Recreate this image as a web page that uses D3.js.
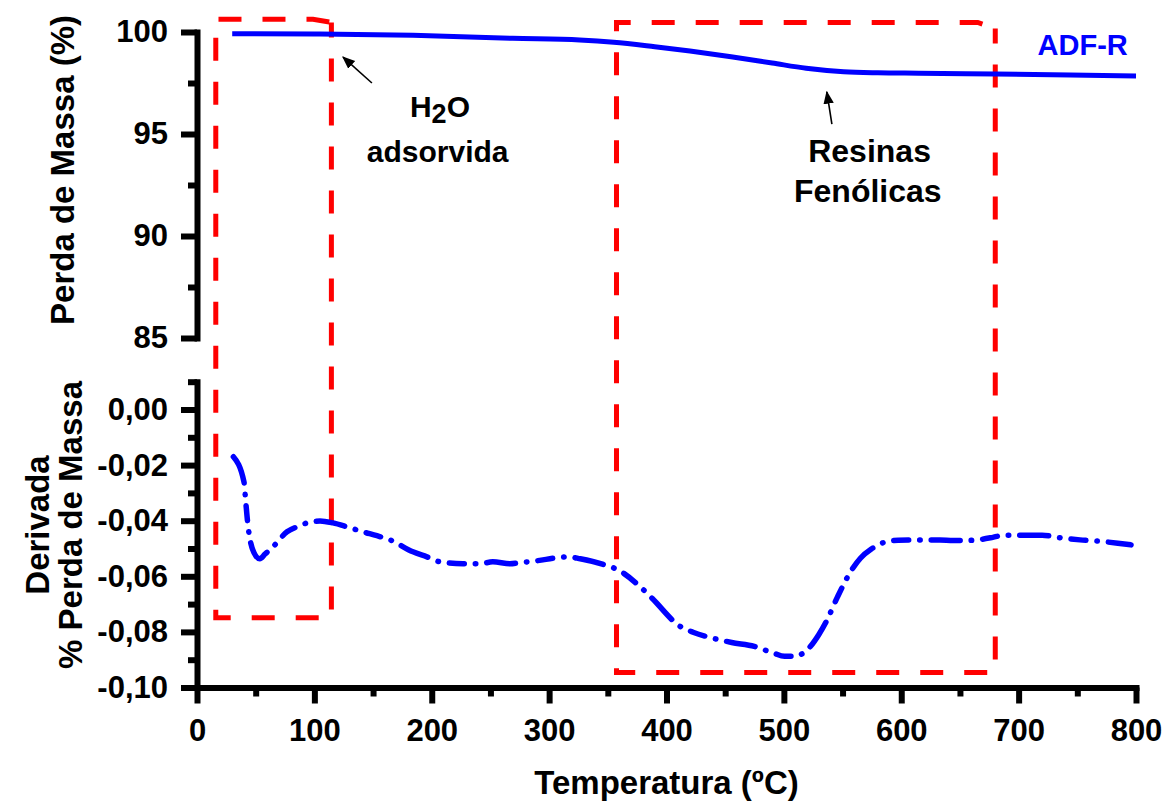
<!DOCTYPE html>
<html><head><meta charset="utf-8">
<script src="https://cdn.jsdelivr.net/npm/d3@7"></script>
<style>body{margin:0;background:#fff}</style>
</head><body>
<svg id="c" width="1172" height="805"></svg>
<script>
// ---- data ----
const tgTemp = [30,100,184,269,326,355,390,420,455,490,519,551,580,615,680,744,800];
const tgMass = [99.92,99.9,99.84,99.69,99.61,99.5,99.28,99.07,98.79,98.48,98.22,98.05,98.0,97.98,97.94,97.89,97.84];

const dtgTemp = [31,40,41.5,43,48.5,53.5,58,64.7,76.7,85.2,93.7,104.8,115.8,127.8,141.4,153.3,164.4,184,195.9,207,226.6,241,252,266.6,275,289.6,307.5,316,326.5,347.4,358.7,379.7,387.7,411.9,423.2,436.1,455.5,474.8,491,500.6,508.7,520,529.7,536.1,545.8,558.7,565.2,574.8,587.7,597.4,616.8,632.9,644.2,655.5,668.4,678,687.7,710.3,720,733,752.3,771.6,784.5,795.8];
const dtgDeriv = [-0.017,-0.026,-0.033,-0.040,-0.0515,-0.0537,-0.052,-0.0494,-0.044,-0.0422,-0.0408,-0.0401,-0.0408,-0.0422,-0.044,-0.0454,-0.0469,-0.0512,-0.053,-0.0548,-0.0555,-0.0555,-0.0548,-0.0555,-0.0551,-0.0544,-0.0533,-0.053,-0.0537,-0.0559,-0.0577,-0.0646,-0.0679,-0.0781,-0.0802,-0.0819,-0.0838,-0.0852,-0.0876,-0.0888,-0.0888,-0.0864,-0.081,-0.0763,-0.0673,-0.0571,-0.0535,-0.0501,-0.0475,-0.047,-0.0469,-0.0469,-0.0471,-0.0471,-0.0467,-0.046,-0.0452,-0.0452,-0.0452,-0.046,-0.0469,-0.0475,-0.0481,-0.0487];

const xTicks = [0,100,200,300,400,500,600,700,800];
const xMinor = [50,150,250,350,450,550,650,750];
const tgTicks = [85,90,95,100];
const tgMinor = [87.5,92.5,97.5];
const dtgTicks = [-0.10,-0.08,-0.06,-0.04,-0.02,0.00];
const dtgMinor = [-0.09,-0.07,-0.05,-0.03,-0.01,0.01];

const seriesName = "ADF-R";
const xTitle = "Temperatura (ºC)";
const tgTitle = "Perda de Massa (%)";
const dtgTitle = ["Derivada","% Perda de Massa"];

// highlight boxes (temperature, top in TG %, bottom in derivative units)
const boxX0 = [16, 357.4];
const boxX1 = [114.5, 680.1];
const boxXs = [98.8, 665.2];
const boxTop = [100.62, 100.47];
const boxTopEnd = [100.47, 100.17];
const boxBottom = [-0.0749, -0.0946];

// annotations (temperature, TG %)
const annoLabels = ["adsorvida","Resinas","Fenólicas"];
const annoSize = [30, 32, 32];
const annoT = [205, 573, 571.5];
const annoV = [93.63, 93.63, 91.67];
const h2oT = 207, h2oV = 95.83;
const arrowFromT = [149, 540.9], arrowFromV = [97.5, 95.49];
const arrowToT = [124.4, 536.6], arrowToV = [98.77, 97.06];
const seriesLabelT = 793, seriesLabelV = 98.87;

// ---- drawing ----
const FONT = "'Liberation Sans', Arial, sans-serif";
const svg = d3.select("#c");
svg.append("rect").attr("width",1172).attr("height",805).attr("fill","#fff");

const x = d3.scaleLinear().domain([0,800]).range([197,1136]);
const yT = d3.scaleLinear().domain([85,100]).range([338,32]);
const yD = d3.scaleLinear().domain([-0.10,0.01]).range([687.5,381.7]);

const loc = d3.formatLocale({decimal:",", thousands:".", grouping:[3], currency:["",""], minus:"-"});
const fmtD = loc.format(".2f");

function styleAxis(g, fs){
  g.select(".domain").attr("stroke","#000").attr("stroke-width",6).attr("stroke-linecap","square");
  g.selectAll(".tick line").attr("stroke","#000").attr("stroke-width",6);
  g.selectAll("text").attr("font-size",fs).attr("font-weight","bold")
    .attr("font-family",FONT).attr("fill","#000");
}

// top panel axis
const gT = svg.append("g").attr("transform","translate(197,0)")
  .call(d3.axisLeft(yT).tickValues(tgTicks).tickSize(16).tickSizeOuter(0).tickPadding(13).tickFormat(d3.format("d")));
styleAxis(gT, 31);
const gTm = svg.append("g").attr("transform","translate(197,0)")
  .call(d3.axisLeft(yT).tickValues(tgMinor).tickSize(9).tickSizeOuter(0).tickFormat(""));
gTm.select(".domain").remove();
styleAxis(gTm, 31);

// bottom panel axis
const gD = svg.append("g").attr("transform","translate(197,0)")
  .call(d3.axisLeft(yD).tickValues(dtgTicks).tickSize(16).tickSizeOuter(0).tickPadding(13).tickFormat(fmtD));
styleAxis(gD, 31);
const gDm = svg.append("g").attr("transform","translate(197,0)")
  .call(d3.axisLeft(yD).tickValues(dtgMinor).tickSize(9).tickSizeOuter(0).tickFormat(""));
gDm.select(".domain").remove();
styleAxis(gDm, 31);

// x axis
const gX = svg.append("g").attr("transform",`translate(0,${yD(-0.10)})`)
  .call(d3.axisBottom(x).tickValues(xTicks).tickSize(16).tickSizeOuter(0).tickPadding(15).tickFormat(d3.format("d")));
styleAxis(gX, 31);
const gXm = svg.append("g").attr("transform",`translate(0,${yD(-0.10)})`)
  .call(d3.axisBottom(x).tickValues(xMinor).tickSize(9).tickSizeOuter(0).tickFormat(""));
gXm.select(".domain").remove();
styleAxis(gXm, 31);

// axis titles
svg.append("text").attr("transform",`translate(74,170) rotate(-90)`)
  .attr("text-anchor","middle").attr("font-family",FONT).attr("font-weight","bold")
  .attr("font-size",33).text(tgTitle);
svg.append("text").attr("transform",`translate(49,525) rotate(-90)`)
  .attr("text-anchor","middle").attr("font-family",FONT).attr("font-weight","bold")
  .attr("font-size",33).text(dtgTitle[0]);
svg.append("text").attr("transform",`translate(82,525) rotate(-90)`)
  .attr("text-anchor","middle").attr("font-family",FONT).attr("font-weight","bold")
  .attr("font-size",33).text(dtgTitle[1]);
svg.append("text").attr("x",(x(0)+x(800))/2).attr("y",794)
  .attr("text-anchor","middle").attr("font-family",FONT).attr("font-weight","bold")
  .attr("font-size",33).text(xTitle);

// red dashed boxes
boxX0.forEach((x0,i)=>{
  const p = d3.path();
  p.moveTo(x(boxX1[i]), yT(boxTopEnd[i]));
  p.lineTo(x(boxX1[i]), yD(boxBottom[i]));
  p.lineTo(x(x0), yD(boxBottom[i]));
  p.lineTo(x(x0), yT(boxTop[i]));
  p.lineTo(x(boxXs[i]), yT(boxTop[i]));
  p.closePath();
  svg.append("path").attr("d",p.toString()).attr("fill","none")
    .attr("stroke","#ff0000").attr("stroke-width",5)
    .attr("stroke-dasharray","23,21").attr("stroke-dashoffset",8);
});

// TG curve
const tgData = tgTemp.map((t,i)=>[t,tgMass[i]]);
svg.append("path").datum(tgData)
  .attr("d", d3.line().x(d=>x(d[0])).y(d=>yT(d[1])).curve(d3.curveMonotoneX))
  .attr("fill","none").attr("stroke","#0000ff").attr("stroke-width",5);

// DTG curve
const dtgData = dtgTemp.map((t,i)=>[t,dtgDeriv[i]]);
svg.append("path").datum(dtgData)
  .attr("d", d3.line().x(d=>x(d[0])).y(d=>yD(d[1])).curve(d3.curveMonotoneX))
  .attr("fill","none").attr("stroke","#0000ff").attr("stroke-width",5.5)
  .attr("stroke-linecap","round").attr("stroke-linejoin","round")
  .attr("stroke-dasharray","29,11,0.5,11,15,11,0.5,11");

// series label
svg.append("text").attr("x",x(seriesLabelT)).attr("y",yT(seriesLabelV))
  .attr("text-anchor","end").attr("font-family",FONT).attr("font-weight","bold")
  .attr("font-size",29).attr("fill","#0000ff").text(seriesName);

// arrows
const defs = svg.append("defs");
defs.append("marker").attr("id","ah").attr("viewBox","0 0 10 10").attr("refX",9).attr("refY",5)
  .attr("markerWidth",13).attr("markerHeight",13).attr("markerUnits","userSpaceOnUse").attr("orient","auto")
  .append("path").attr("d","M0,1 L10,5 L0,9 Z").attr("fill","#000");
arrowFromT.forEach((t,i)=>{
  svg.append("line").attr("x1",x(t)).attr("y1",yT(arrowFromV[i]))
    .attr("x2",x(arrowToT[i])).attr("y2",yT(arrowToV[i]))
    .attr("stroke","#000").attr("stroke-width",1.6).attr("marker-end","url(#ah)");
});

// annotation text
const h2o = svg.append("text").attr("x",x(h2oT)).attr("y",yT(h2oV))
  .attr("text-anchor","middle").attr("font-family",FONT).attr("font-weight","bold").attr("font-size",30);
h2o.append("tspan").text("H");
h2o.append("tspan").attr("font-size",27).attr("dy",6).text("2");
h2o.append("tspan").attr("dy",-6).text("O");
annoLabels.forEach((s,i)=>{
  svg.append("text").attr("x",x(annoT[i])).attr("y",yT(annoV[i]))
    .attr("text-anchor","middle").attr("font-family",FONT).attr("font-weight","bold")
    .attr("font-size",annoSize[i]).text(s);
});
</script>
</body></html>
